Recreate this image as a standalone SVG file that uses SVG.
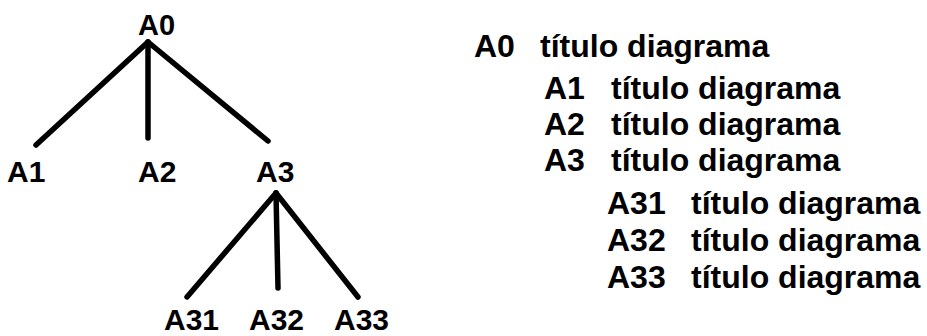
<svg xmlns="http://www.w3.org/2000/svg" width="927" height="336" viewBox="0 0 927 336">
<style>
.lbl{font-family:"Liberation Sans",Arial,sans-serif;font-weight:bold;font-size:30px;fill:#000}
.lst{font-family:"Liberation Sans",Arial,sans-serif;font-weight:bold;font-size:32px;fill:#000}
.edge{stroke:#000;stroke-width:5.5;stroke-linecap:round;fill:none}
</style>
<rect width="927" height="336" fill="#fff"/>
<g id="connectors">
<line class="edge" x1="148" y1="42" x2="36" y2="145"/>
<line class="edge" x1="148" y1="42" x2="148" y2="138"/>
<line class="edge" x1="148" y1="42" x2="268" y2="141"/>
<line class="edge" x1="276" y1="193" x2="187" y2="297"/>
<line class="edge" x1="276" y1="193" x2="278" y2="288"/>
<line class="edge" x1="276" y1="193" x2="358" y2="297"/>
</g>
<g id="node-A0"><text class="lbl" x="138" y="35" style="font-size:29px">A0</text></g>
<g id="node-A1"><text class="lbl" x="7" y="182">A1</text></g>
<g id="node-A2"><text class="lbl" x="138" y="182">A2</text></g>
<g id="node-A3"><text class="lbl" x="256" y="182">A3</text></g>
<g id="node-A31"><text class="lbl" x="164" y="330">A31</text></g>
<g id="node-A32"><text class="lbl" x="249" y="330">A32</text></g>
<g id="node-A33"><text class="lbl" x="334" y="330">A33</text></g>
<g id="legend">
<text class="lst" x="474" y="57">A0</text><text class="lst" x="540" y="57">título diagrama</text>
<text class="lst" x="544" y="99">A1</text><text class="lst" x="611" y="99">título diagrama</text>
<text class="lst" x="544" y="135">A2</text><text class="lst" x="611" y="135">título diagrama</text>
<text class="lst" x="544" y="171">A3</text><text class="lst" x="611" y="171">título diagrama</text>
<text class="lst" x="607" y="214">A31</text><text class="lst" x="691" y="214">título diagrama</text>
<text class="lst" x="607" y="251">A32</text><text class="lst" x="691" y="251">título diagrama</text>
<text class="lst" x="607" y="288">A33</text><text class="lst" x="691" y="288">título diagrama</text>
</g>
</svg>
